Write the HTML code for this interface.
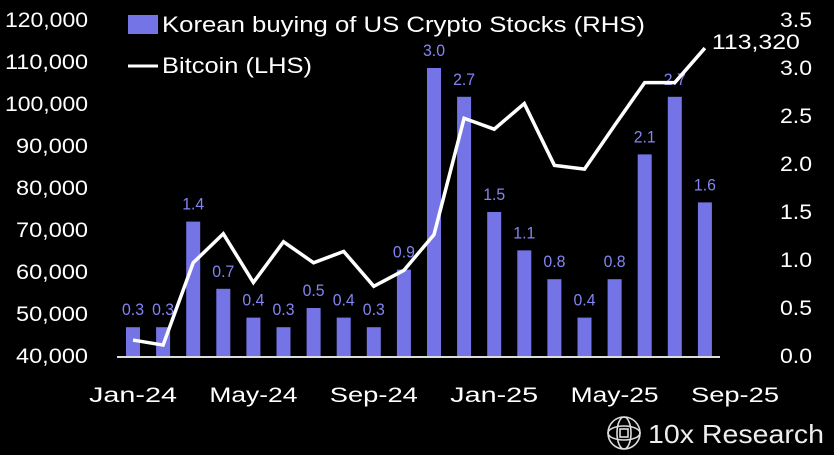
<!DOCTYPE html>
<html><head><meta charset="utf-8"><style>
html,body{margin:0;padding:0;background:#000;}
svg{display:block;font-family:"Liberation Sans",sans-serif;}
</style></head><body>
<svg id="chart" width="834" height="455" viewBox="0 0 834 455">
<rect width="834" height="455" fill="#000"/>
<g id="leftAxis"></g>
<g id="rightAxis"></g>
<g id="bars"></g>
<line x1="117" y1="357" x2="720" y2="357" stroke="#ddd" stroke-width="2"/>
<g id="xAxis"></g>
<path id="btcLine" fill="none" stroke="#fff" stroke-width="3.5" stroke-linejoin="miter"/>
<text id="lastLabel" font-size="21" fill="#fff" textLength="88" lengthAdjust="spacingAndGlyphs"></text>
<g>
<rect x="128" y="15" width="30" height="19" fill="#7474e6"/>
<text x="162" y="32" font-size="22" fill="#fff" textLength="483" lengthAdjust="spacingAndGlyphs">Korean buying of US Crypto Stocks (RHS)</text>
<line x1="128" y1="66" x2="158" y2="66" stroke="#fff" stroke-width="3"/>
<text x="162" y="73" font-size="22" fill="#fff" textLength="150" lengthAdjust="spacingAndGlyphs">Bitcoin (LHS)</text>
</g>
<g>
<g transform="translate(624,433)" stroke="#ddd" stroke-width="1.6" fill="none">
<circle r="16"/><ellipse rx="16" ry="7"/><ellipse rx="7" ry="16"/><rect x="-4" y="-4" width="8" height="8"/>
</g>
<text x="648" y="443" font-size="26" fill="#eee" textLength="176" lengthAdjust="spacingAndGlyphs">10x Research</text>
</g>
</svg>
<script>
const months = ["Jan-24","Feb-24","Mar-24","Apr-24","May-24","Jun-24","Jul-24","Aug-24","Sep-24","Oct-24","Nov-24","Dec-24","Jan-25","Feb-25","Mar-25","Apr-25","May-25","Jun-25","Jul-25","Aug-25"];
const koreanBuying = [0.3,0.3,1.4,0.7,0.4,0.3,0.5,0.4,0.3,0.9,3.0,2.7,1.5,1.1,0.8,0.4,0.8,2.1,2.7,1.6];
const bitcoin = [43800,42600,62200,69100,57500,67200,62200,64900,56600,60400,68900,96600,94000,100100,85400,84500,94900,105100,105100,113320];
const leftTicks = [40000,50000,60000,70000,80000,90000,100000,110000,120000];
const rightTicks = [0,0.5,1.0,1.5,2.0,2.5,3.0,3.5];
const xTickLabels = ["Jan-24","May-24","Sep-24","Jan-25","May-25","Sep-25"];
const xTickIndex = [0,4,8,12,16,20];

const NS="http://www.w3.org/2000/svg";
const x = i => 133 + i*30.1;
const yL = v => 356 - (v-40000)/80000*336;
const yR = v => 356 - v/3.5*336;
function mk(tag, attrs, parent){const e=document.createElementNS(NS,tag);for(const k in attrs)e.setAttribute(k,attrs[k]);parent.appendChild(e);return e;}

const la=document.getElementById('leftAxis');
leftTicks.forEach(v=>{
  const s=v.toLocaleString('en-US');
  const t=mk('text',{x:88,y:yL(v)+7,'font-size':21,fill:'#fff','text-anchor':'end',textLength:s.length>6?83:72,lengthAdjust:'spacingAndGlyphs'},la);
  t.textContent=s;
  
  
});
const ra=document.getElementById('rightAxis');
rightTicks.forEach(v=>{
  const t=mk('text',{x:780,y:yR(v)+7,'font-size':21,fill:'#fff',textLength:32,lengthAdjust:'spacingAndGlyphs'},ra);
  t.textContent=v.toFixed(1);
  
  
});
const xa=document.getElementById('xAxis');
xTickLabels.forEach((l,k)=>{
  const t=mk('text',{x:x(xTickIndex[k])-44,y:402,'font-size':21,fill:'#fff',textLength:88,lengthAdjust:'spacingAndGlyphs'},xa);
  t.textContent=l;
  
  
});
const bg=document.getElementById('bars');
koreanBuying.forEach((v,i)=>{
  const r=mk('rect',{x:x(i)-7,y:yR(v),width:14,height:356-yR(v),fill:'#7474e6'},bg);
  
  
  const t=mk('text',{x:x(i)-11,y:yR(v)-12,'font-size':17,fill:'#8484f2',textLength:22,lengthAdjust:'spacingAndGlyphs'},bg);
  t.textContent=v.toFixed(1);
  
  
});
document.getElementById('btcLine').setAttribute('d',bitcoin.map((v,i)=>(i?'L':'M')+x(i)+','+yL(v)).join(' '));
const last=bitcoin.length-1;
const ll=document.getElementById('lastLabel');
ll.setAttribute('x',x(last)+7);ll.setAttribute('y',yL(bitcoin[last])+1);
ll.textContent=bitcoin[last].toLocaleString('en-US');
</script>
</body></html>
